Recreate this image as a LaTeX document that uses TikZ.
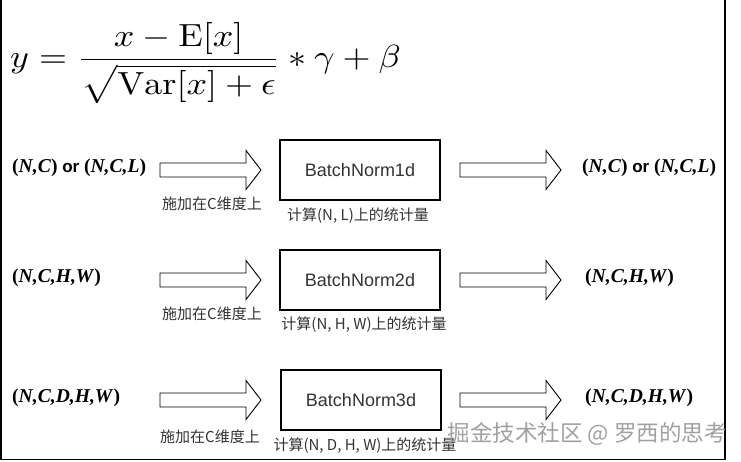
\documentclass[tikz,border=0pt]{standalone}
\usepackage{amsmath,amssymb}
\usepackage{fontspec}
\setsansfont{Liberation Sans}
\newfontfamily\cjk{Noto Sans CJK SC}
\newfontfamily\tuplefont{Liberation Serif}
\usetikzlibrary{positioning}

\definecolor{txtgray}{HTML}{333333}
\definecolor{wmgray}{HTML}{A0A0A0}

\tikzset{
  bnbox/.style={draw, line width=1.3pt, minimum width=160pt, minimum height=60pt,
    font=\sffamily\fontsize{18}{20}\selectfont, text=txtgray},
  shapelbl/.style={inner sep=0pt, anchor=west, font=\fontsize{19.6}{22}\selectfont},
  applylbl/.style={inner sep=0pt, font=\cjk\fontsize{15}{17}\selectfont, text=txtgray},
  statlbl/.style={inner sep=0pt, font=\cjk\fontsize{15}{17}\selectfont, text=txtgray},
  fatarrow/.pic={
    \draw[line width=0.9pt, miter limit=10]
      (0,-7) -- (86,-7) -- (86,-19.5) -- (101,0) -- (86,19.5) -- (86,7) -- (0,7) -- cycle;
  }
}
\newcommand{\tup}[1]{{\tuplefont\bfseries(\textit{#1})}}
\newcommand{\orword}{{\sffamily\bfseries\fontsize{17}{20}\selectfont\ or\ }}

\begin{document}
\begin{tikzpicture}[x=1pt,y=-1pt]
\useasboundingbox (0,0) rectangle (741,462);
\draw[line width=1.4pt] (1,0) -- (1,459.5) -- (725,459.5) -- (725,0);

% formula
\node[anchor=west, inner sep=0pt] (formula) at (10,63)
  {\scalebox{3.6}[3.2]{$\displaystyle y=\frac{x-\mathrm{E}[x]}{\sqrt{\mathrm{Var}[x]+\epsilon}}\ast\gamma+\beta$}};

% BatchNorm1d
\node[shapelbl] (in1) at (12,168) {\tup{N,C}\orword\tup{N,C,L}};
\path (160,170) pic {fatarrow};
\node[applylbl] (apply1) at (212,204) {施加在C维度上};
\node[bnbox] (bn1) at (360,170) {BatchNorm1d};
\node[statlbl] (stat1) at (358,216) {计算(N, L)上的统计量};
\path (460,170) pic {fatarrow};
\node[shapelbl] (out1) at (582,168) {\tup{N,C}\orword\tup{N,C,L}};

% BatchNorm2d
\node[shapelbl] (in2) at (12,278) {\tup{N,C,H,W}};
\path (160,280) pic {fatarrow};
\node[applylbl] (apply2) at (212,314) {施加在C维度上};
\node[bnbox] (bn2) at (360,280) {BatchNorm2d};
\node[statlbl] (stat2) at (364,325) {计算(N, H, W)上的统计量};
\path (460,280) pic {fatarrow};
\node[shapelbl] (out2) at (585,278) {\tup{N,C,H,W}};

% BatchNorm3d
\node[shapelbl] (in3) at (12,398) {\tup{N,C,D,H,W}};
\path (160,400) pic {fatarrow};
\node[applylbl] (apply3) at (210,437) {施加在C维度上};
\node[bnbox] (bn3) at (361,400) {BatchNorm3d};
\node[statlbl] (stat3) at (365,446) {计算(N, D, H, W)上的统计量};
\path (460,400) pic {fatarrow};
\node[shapelbl] (out3) at (585,398) {\tup{N,C,D,H,W}};

% watermark
\node[inner sep=0pt, anchor=east, font=\cjk\fontsize{22.5}{25}\selectfont, text=wmgray]
  (mark) at (727,434) {掘金技术社区 @ 罗西的思考};
\end{tikzpicture}
\end{document}
